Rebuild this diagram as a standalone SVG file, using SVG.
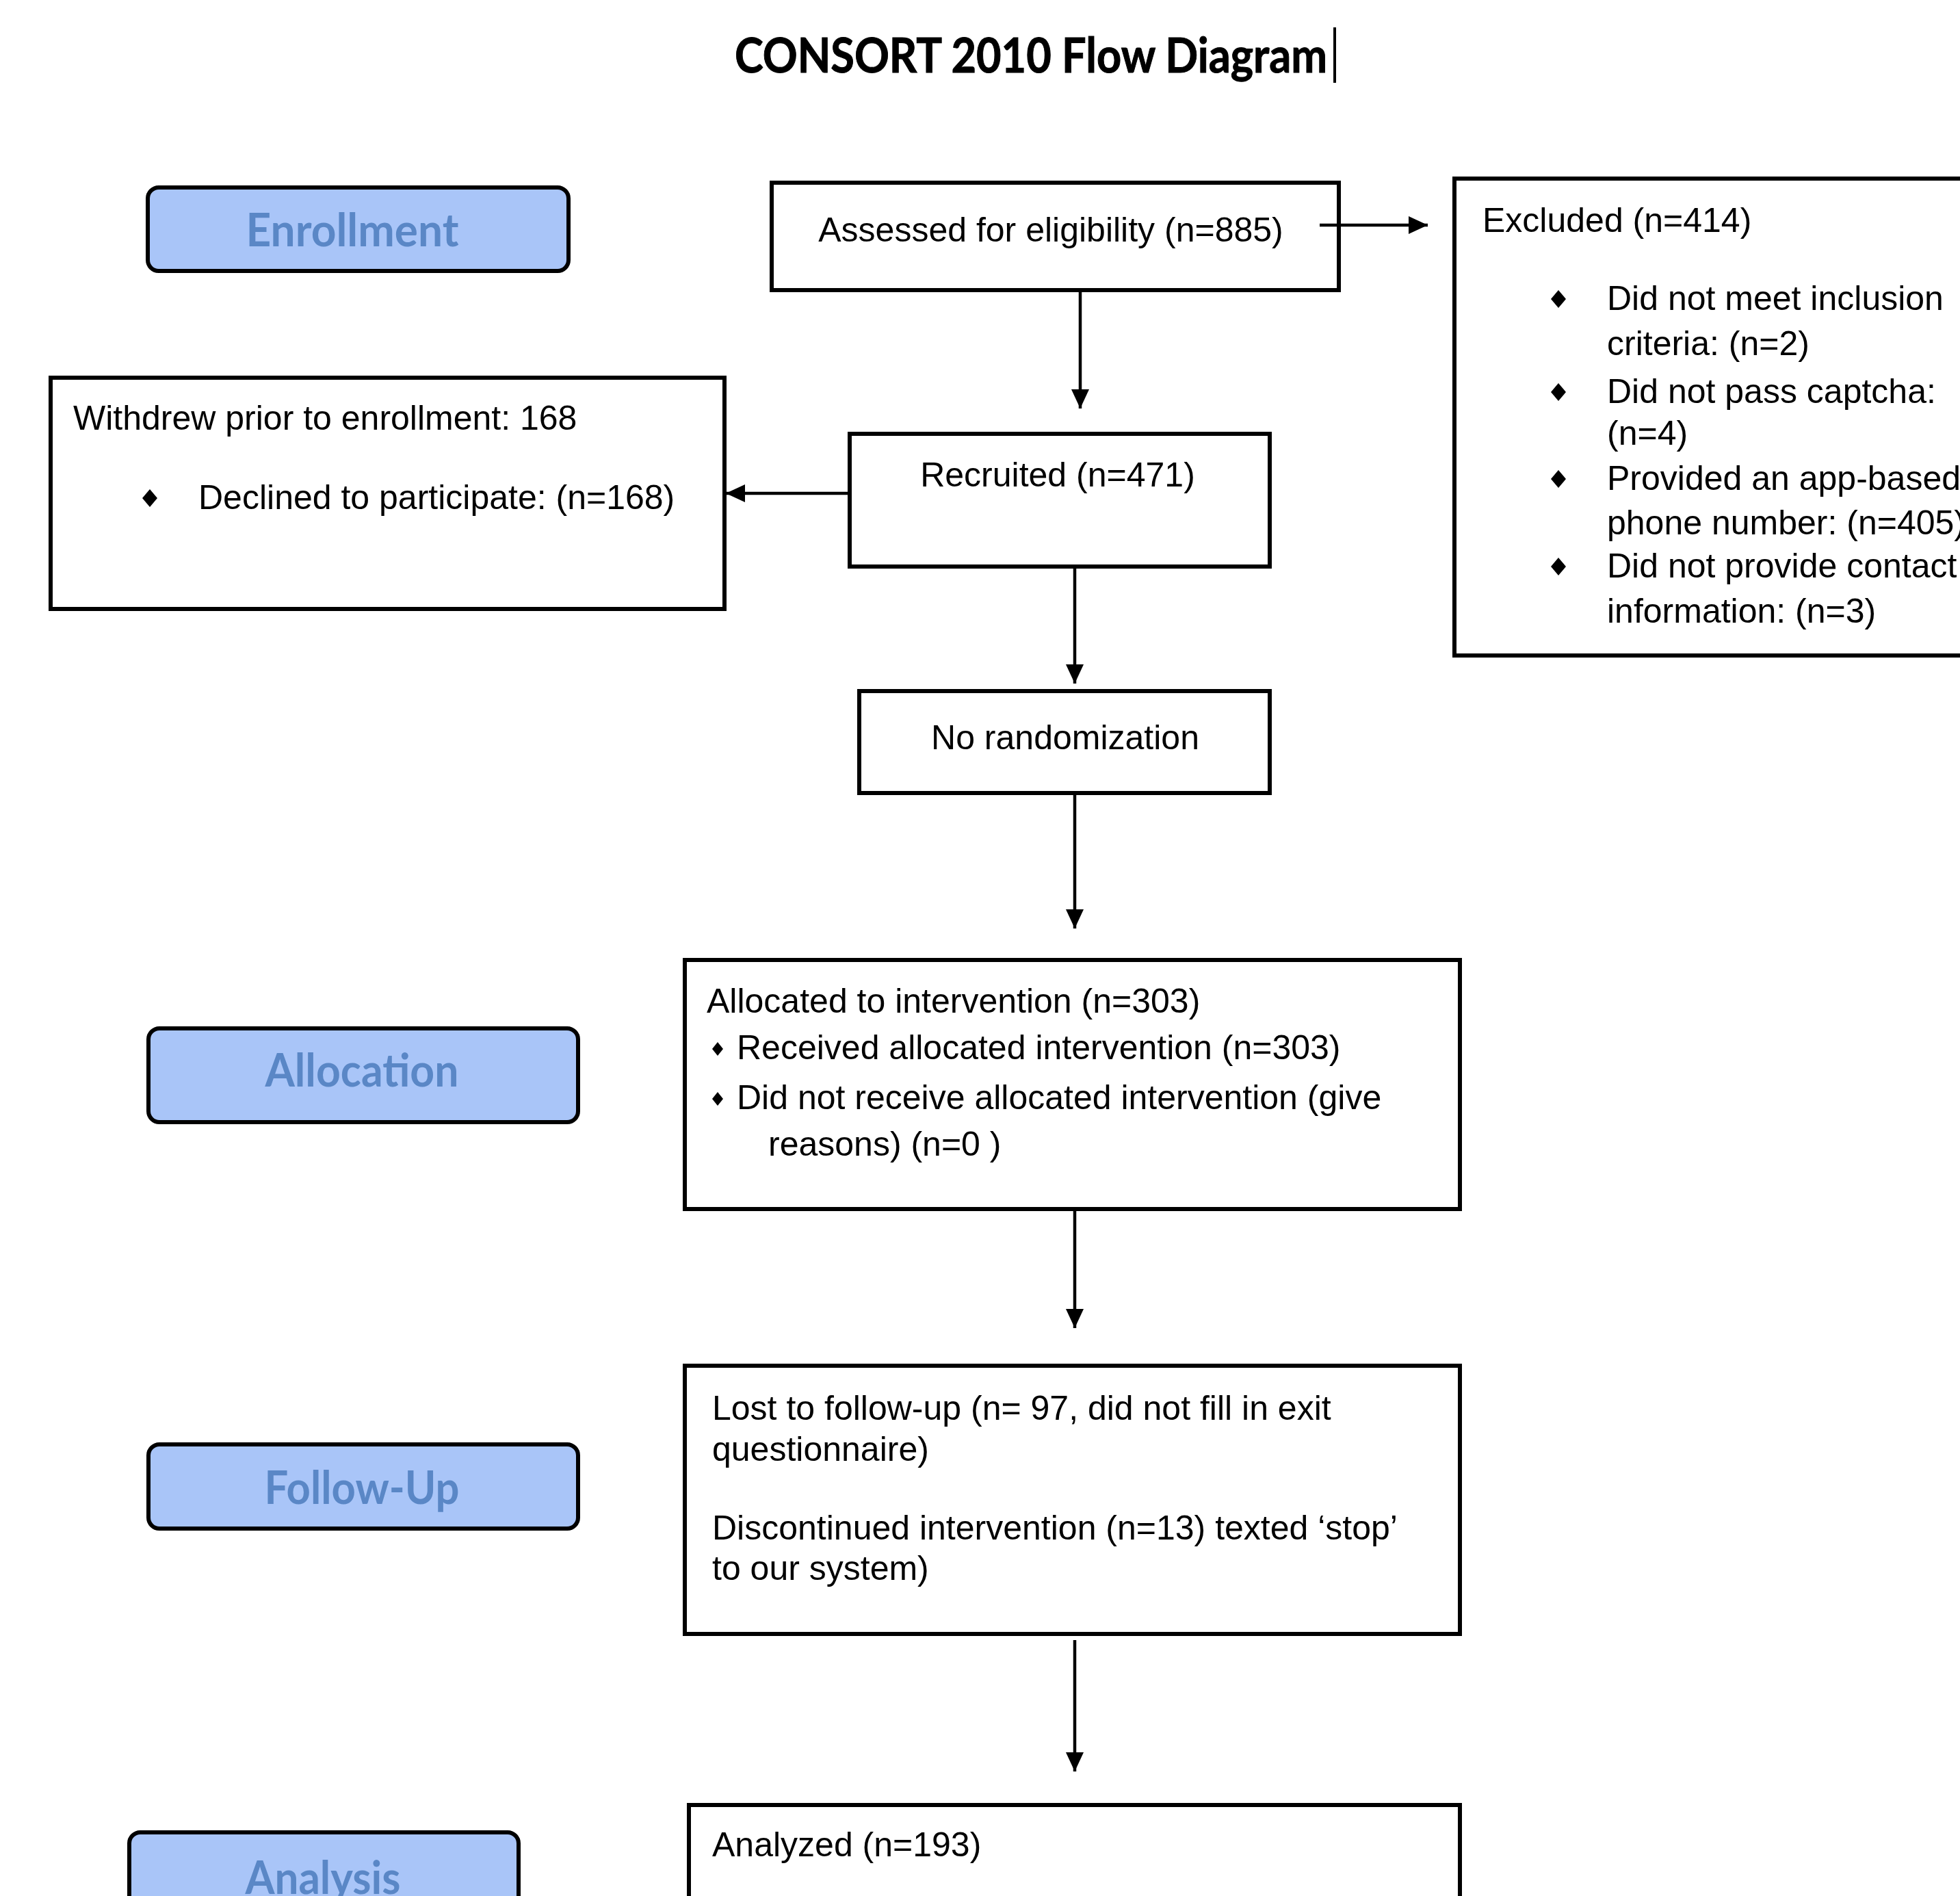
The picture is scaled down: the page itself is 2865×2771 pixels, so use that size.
<svg xmlns="http://www.w3.org/2000/svg" width="2865" height="2771" viewBox="0 0 2865 2771">
<style>
.box{fill:#ffffff;stroke:#000000;stroke-width:6}
.lbl{fill:#a9c5f8;stroke:#000000;stroke-width:6}
.lt{font-family:Lato,"Open Sans","Liberation Sans",sans-serif;font-weight:700;font-size:66px;fill:#5a87c6;text-anchor:middle}
.t{font-family:"Liberation Sans",Arial,sans-serif;font-size:50px;fill:#000000}
.tc{text-anchor:middle}
.title{font-family:Lato,"Open Sans","Liberation Sans",sans-serif;font-weight:700;font-size:70px;fill:#000000;stroke:#000000;stroke-width:1}
.conn{stroke:#000000;stroke-width:4.5;fill:none;marker-end:url(#arr)}
.bul{fill:#000000}
</style>
<defs>
<marker id="arr" markerUnits="userSpaceOnUse" markerWidth="28" markerHeight="26" refX="28" refY="13" orient="auto">
<path d="M0,0 L28,13 L0,26 z" fill="#000000"/>
</marker>
<path id="dia" d="M0,-13 L11,0 L0,13 L-11,0 z"/>
<path id="dias" d="M0,-10 L8,0 L0,10 L-8,0 z"/>
</defs>
<rect x="0" y="0" width="2865" height="2771" fill="#ffffff"/>

<g id="title">
<text class="title" x="1074" y="106" textLength="866" lengthAdjust="spacingAndGlyphs">CONSORT 2010 Flow Diagram</text>
<line x1="1951" y1="40" x2="1951" y2="121" stroke="#000000" stroke-width="4"/>
</g>

<g id="label-enrollment">
<rect class="lbl" x="216" y="274" width="615" height="122" rx="16"/>
<text class="lt" x="515" y="360" textLength="311" lengthAdjust="spacingAndGlyphs">Enrollment</text>
</g>
<g id="label-allocation">
<rect class="lbl" x="217" y="1503" width="628" height="137" rx="16"/>
<text class="lt" x="529" y="1588" textLength="283" lengthAdjust="spacingAndGlyphs">Allocation</text>
</g>
<g id="label-followup">
<rect class="lbl" x="217" y="2111" width="628" height="123" rx="16"/>
<text class="lt" x="529" y="2198" textLength="285" lengthAdjust="spacingAndGlyphs">Follow-Up</text>
</g>
<g id="label-analysis">
<rect class="lbl" x="189" y="2678" width="569" height="200" rx="16"/>
<text class="lt" x="472" y="2768" textLength="227" lengthAdjust="spacingAndGlyphs">Analysis</text>
</g>

<g id="assessed">
<rect class="box" x="1128" y="267" width="829" height="157"/>
<text class="t tc" x="1536" y="353">Assessed for eligibility (n=885)</text>
</g>

<g id="excluded">
<rect class="box" x="2126" y="261" width="800" height="697"/>
<text class="t" x="2167" y="339">Excluded (n=414)</text>
<use href="#dia" class="bul" x="2278" y="437"/>
<text class="t" x="2349" y="453">Did not meet inclusion</text>
<text class="t" x="2349" y="519">criteria: (n=2)</text>
<use href="#dia" class="bul" x="2278" y="573"/>
<text class="t" x="2349" y="589">Did not pass captcha:</text>
<text class="t" x="2349" y="650">(n=4)</text>
<use href="#dia" class="bul" x="2278" y="700"/>
<text class="t" x="2349" y="716">Provided an app-based</text>
<text class="t" x="2349" y="781">phone number: (n=405)</text>
<use href="#dia" class="bul" x="2278" y="828"/>
<text class="t" x="2349" y="844">Did not provide contact</text>
<text class="t" x="2349" y="910">information: (n=3)</text>
</g>

<g id="withdrew">
<rect class="box" x="74" y="552" width="985" height="338"/>
<text class="t" x="107" y="628">Withdrew prior to enrollment: 168</text>
<use href="#dia" class="bul" x="219" y="728"/>
<text class="t" x="290" y="744">Declined to participate: (n=168)</text>
</g>

<g id="recruited">
<rect class="box" x="1242" y="634" width="614" height="194"/>
<text class="t tc" x="1546" y="711">Recruited (n=471)</text>
</g>

<g id="norandom">
<rect class="box" x="1256" y="1010" width="600" height="149"/>
<text class="t tc" x="1557" y="1095">No randomization</text>
</g>

<g id="allocated">
<rect class="box" x="1001" y="1403" width="1133" height="364"/>
<text class="t" x="1033" y="1480">Allocated to intervention (n=303)</text>
<use href="#dias" class="bul" x="1049" y="1533"/>
<text class="t" x="1077" y="1548">Received allocated intervention (n=303)</text>
<use href="#dias" class="bul" x="1049" y="1606"/>
<text class="t" x="1077" y="1621">Did not receive allocated intervention (give</text>
<text class="t" x="1123" y="1689">reasons) (n=0 )</text>
</g>

<g id="lost">
<rect class="box" x="1001" y="1996" width="1133" height="392"/>
<text class="t" x="1041" y="2075">Lost to follow-up (n= 97, did not fill in exit</text>
<text class="t" x="1041" y="2135">questionnaire)</text>
<text class="t" x="1041" y="2250">Discontinued intervention (n=13) texted ‘stop’</text>
<text class="t" x="1041" y="2309">to our system)</text>
</g>

<g id="analyzed">
<rect class="box" x="1007" y="2638" width="1127" height="250"/>
<text class="t" x="1041" y="2713">Analyzed (n=193)</text>
</g>

<g id="connectors">
<path class="conn" d="M1579,424 V597"/>
<path class="conn" d="M1929,329 H2087"/>
<path class="conn" d="M1242,721 H1061"/>
<path class="conn" d="M1571,828 V999"/>
<path class="conn" d="M1571,1159 V1357"/>
<path class="conn" d="M1571,1767 V1941"/>
<path class="conn" d="M1571,2397 V2589"/>
</g>
</svg>
